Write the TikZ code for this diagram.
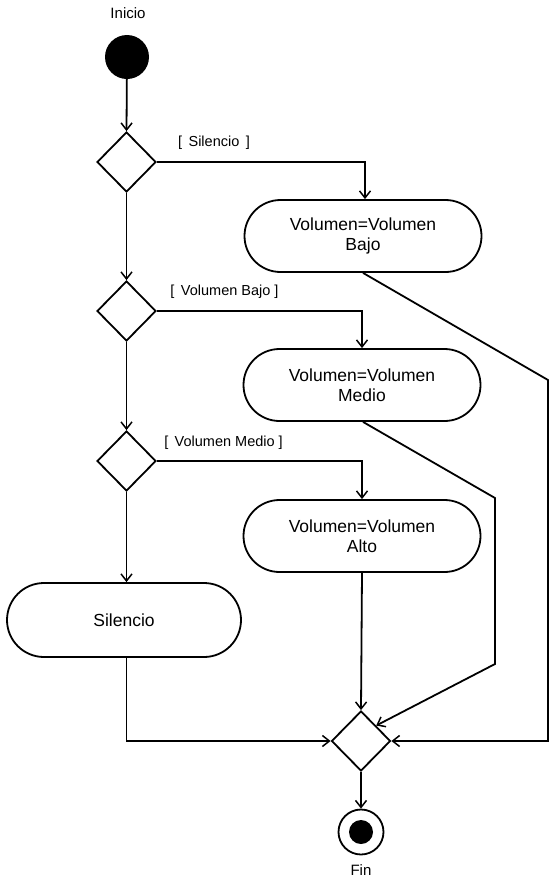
\documentclass[tikz,border=0pt]{standalone}
\usepackage{fontspec}
\setmainfont{Liberation Sans}
\usetikzlibrary{shapes.geometric,arrows.meta}

\tikzset{
  flow/.style={line width=1.8pt, draw=black},
  arr/.style={flow, -{Straight Barb[length=7pt,width=11pt,line width=1.5pt]}},
  activity/.style={draw=black, line width=1.8pt, rounded corners=36pt,
    minimum width=237pt, minimum height=72pt, inner sep=0pt, align=center,
    font=\fontsize{17.5}{19.5}\selectfont},
  decision/.style={draw=black, line width=1.8pt, diamond, minimum width=59pt,
    minimum height=60pt, inner sep=0pt, fill=white},
  guard/.style={font=\fontsize{14.5}{16}\selectfont, inner sep=0pt},
  caption/.style={font=\fontsize{15}{16}\selectfont, inner sep=0pt},
}

\begin{document}
\begin{tikzpicture}[x=1pt, y=-1pt]
  \useasboundingbox (0,0) rectangle (552,879);

  % initial and final states
  \node[caption] (inicio) at (128,13) {Inicio};
  \node[circle, fill=black, minimum size=44pt, inner sep=0pt] (start) at (127,57) {};

  % decisions
  \node[decision] (d1) at (126.5,162) {};
  \node[decision] (d2) at (126.5,311) {};
  \node[decision] (d3) at (126.5,461) {};
  \node[decision] (merge) at (361,741) {};

  % activities
  \node[activity] (bajo) at (363,236) {Volumen=Volumen\\Bajo};
  \node[activity] (medio) at (362,385) {Volumen=Volumen\\Medio};
  \node[activity] (alto) at (362,536) {Volumen=Volumen\\Alto};
  \node[activity, minimum width=234pt, minimum height=74pt, rounded corners=37pt] (silencio) at (124,620) {Silencio};

  % end state
  \node[circle, draw=black, line width=1.8pt, minimum size=45pt, inner sep=0pt] (endc) at (361,832) {};
  \node[circle, fill=black, minimum size=24pt, inner sep=0pt] (enddot) at (endc) {};
  \node[caption] (fin) at (361,870) {Fin};

  % guard labels
  \node[guard] (g1) at (214,143) {[\,\ Silencio\ \,]};
  \node[guard] (g2) at (224.5,292) {[\,\ Volumen Bajo\ ]};
  \node[guard] (g3) at (223.5,443) {[\,\ Volumen Medio\ ]};

  % bend points of the long return lines
  \coordinate (m1) at (495,498);
  \coordinate (m2) at (495,664);
  \coordinate (r1) at (548,380);
  \coordinate (r2) at (548,741);

  % main flow
  \draw[arr] (start) -- (d1.north);
  \draw[arr] (d1.south) -- (d2.north);
  \draw[arr] (d2.south) -- (d3.north);
  \draw[arr] (d3.south) -- (d3.south |- silencio.north);

  \draw[arr] (d1.east) -| ([xshift=2pt]bajo.north);
  \draw[arr] (d2.east) -| (medio.north);
  \draw[arr] (d3.east) -| (alto.north);

  % into the merge
  \draw[arr] (d3.south |- silencio.south) |- (merge.west);
  \draw[arr] (alto.south) -- (merge.north);
  \draw[arr] ([xshift=1pt]medio.south) -- (m1) -- (m2) -- (merge.north east);
  \draw[arr] (bajo.south) -- (r1) -- (r2) -- (merge.east);
  \draw[arr] (merge.south) -- (endc.north);
\end{tikzpicture}
\end{document}
